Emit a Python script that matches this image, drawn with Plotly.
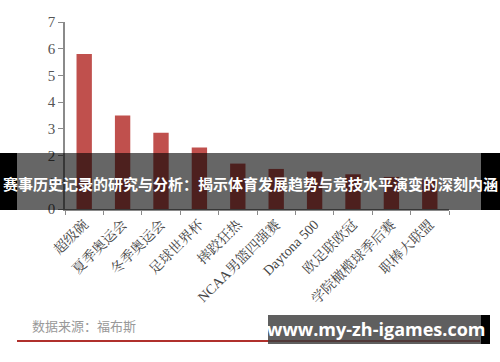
import plotly.graph_objects as go

categories = ["超级碗", "夏季奥运会", "冬季奥运会", "足球世界杯", "摔跤狂热",
              "NCAA男篮四强赛", "Daytona 500", "欧足联欧冠", "学院橄榄球季后赛", "职棒大联盟"]
values = [5.8, 3.5, 2.85, 2.3, 1.7, 1.5, 1.4, 1.3, 1.2, 1.1]
y_ticks = [0, 1, 2, 3, 4, 5, 6, 7]

W, H = 500, 362
L, R, T, B = 65, 51, 22, 153
PW, PH = W - L - R, H - T - B

def px(x):
    return (x - L) / PW

def py(y):
    return (H - B - y) / PH

fig = go.Figure()
fig.add_trace(go.Bar(x=categories, y=values, marker=dict(color="#c0504d", line=dict(width=0)),
                     width=0.4))

serif = "Liberation Serif, DejaVu Serif, Noto Serif CJK SC, serif"
fig.update_layout(
    width=W, height=H,
    margin=dict(l=L, r=R, t=T, b=B, autoexpand=False),
    paper_bgcolor="white", plot_bgcolor="white",
    showlegend=False,
    xaxis=dict(tickangle=-45, showline=True, linecolor="#8a8a8a", linewidth=1.5,
               ticks="outside", ticklen=4, tickcolor="#8a8a8a", showgrid=False,
               tickfont=dict(family=serif, size=14, color="#444"),
               tickson="boundaries"),
    yaxis=dict(range=[0, 7], tickvals=y_ticks, showline=True, linecolor="#8a8a8a",
               linewidth=1.5, ticks="outside", ticklen=5, tickcolor="#8a8a8a",
               showgrid=False, zeroline=False,
               tickfont=dict(family=serif, size=15, color="#555")),
)

shapes = []
shapes.append(dict(type="rect", xref="paper", yref="paper", layer="above",
                   x0=px(0), x1=px(500), y0=py(210), y1=py(153),
                   fillcolor="rgba(0,0,0,0.6)", line=dict(width=0)))
shapes.append(dict(type="rect", xref="paper", yref="paper", layer="above",
                   x0=px(0), x1=px(17), y0=py(210), y1=py(153),
                   fillcolor="black", line=dict(width=0)))
shapes.append(dict(type="rect", xref="paper", yref="paper", layer="above",
                   x0=px(481), x1=px(500), y0=py(210), y1=py(153),
                   fillcolor="black", line=dict(width=0)))
shapes.append(dict(type="line", xref="paper", yref="paper", layer="above",
                   x0=px(17), x1=px(480), y0=py(341), y1=py(341),
                   line=dict(color="#b0302c", width=2)))
shapes.append(dict(type="rect", xref="paper", yref="paper", layer="above",
                   x0=px(268), x1=px(481), y0=py(344), y1=py(315),
                   fillcolor="rgba(60,60,60,0.82)", line=dict(width=0)))
shapes.append(dict(type="rect", xref="paper", yref="paper", layer="above",
                   x0=px(481), x1=px(490), y0=py(344), y1=py(315),
                   fillcolor="black", line=dict(width=0)))
fig.update_layout(shapes=shapes)

fig.add_annotation(text="<b>赛事历史记录的研究与分析：揭示体育发展趋势与竞技水平演变的深刻内涵</b>",
                   xref="paper", yref="paper", x=px(250), y=py(183), showarrow=False,
                   xanchor="center", yanchor="middle",
                   font=dict(family="Noto Sans CJK SC", size=15, color="white"))
fig.add_annotation(text="数据来源：福布斯", xref="paper", yref="paper", x=px(30), y=py(326),
                   showarrow=False, xanchor="left", yanchor="middle",
                   font=dict(family="Noto Sans CJK SC", size=13, color="#999"))
fig.add_annotation(text="<b>www.my-zh-igames.com</b>", xref="paper", yref="paper",
                   x=px(376), y=py(329), showarrow=False, xanchor="center", yanchor="middle",
                   font=dict(family="Open Sans, DejaVu Sans", size=18, color="white"))

fig.write_html("out.html")
